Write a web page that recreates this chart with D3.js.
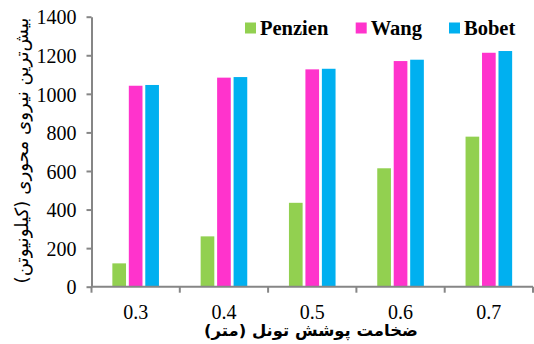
<!DOCTYPE html>
<html>
<head>
<meta charset="utf-8">
<script src="https://cdn.jsdelivr.net/npm/d3@7"></script>
<style>
  html, body { margin: 0; padding: 0; background: #fff; }
  svg { display: block; }
</style>
</head>
<body>
<svg id="chart" width="534" height="344"></svg>
<script>
// Tunnel lining thickness (m) and maximum axial force (kN) by method
const categories = ["0.3", "0.4", "0.5", "0.6", "0.7"];
const seriesNames = ["Penzien", "Wang", "Bobet"];
const penzien = [121, 261, 435, 614, 778];
const wang = [1042, 1084, 1127, 1170, 1213];
const bobet = [1046, 1087, 1130, 1177, 1222];
const yTicks = [0, 200, 400, 600, 800, 1000, 1200, 1400];
const colors = ["#92d050", "#ff33cc", "#00b0f0"];
const xTitle = "ضخامت پوشش تونل  (متر)";
const yTitle = "بیش‌ترین نیروی محوری (کیلونیوتن)";

const values = [penzien, wang, bobet];
const rows = categories.map((c, i) => ({
  cat: c,
  vals: seriesNames.map((s, j) => ({ key: s, value: values[j][i] }))
}));

const svg = d3.select("#chart");
const plotL = 91.5, plotR = 533, plotT = 16.7, plotB = 286.7;
const axisColor = "#868686";
const serif = "Liberation Serif, Noto Serif, DejaVu Serif, FreeSerif, Nimbus Roman, Times, serif";
const persian = "DejaVu Sans, Noto Sans, sans-serif";

const x = d3.scaleBand().domain(categories).range([plotL, plotR]).padding(0);
const x1 = d3.scaleBand().domain(seriesNames).range([-23.3, 23.3]).paddingInner(0.17);
const y = d3.scaleLinear().domain([0, 1400]).range([plotB, plotT]);
const color = d3.scaleOrdinal().domain(seriesNames).range(colors);

// bars
svg.append("g").selectAll("g").data(rows).join("g")
  .attr("transform", d => `translate(${x(d.cat) + x.bandwidth() / 2},0)`)
  .selectAll("rect").data(d => d.vals).join("rect")
  .attr("x", d => x1(d.key))
  .attr("width", x1.bandwidth())
  .attr("y", d => y(d.value))
  .attr("height", d => y(0) - y(d.value))
  .attr("fill", d => color(d.key));

// y axis
const yAxis = svg.append("g")
  .attr("transform", `translate(${plotL},0)`)
  .call(d3.axisLeft(y).tickValues(yTicks).tickFormat(d3.format("d"))
    .tickSize(5).tickSizeOuter(0).tickPadding(10));
yAxis.attr("font-family", serif).attr("font-size", 20);
yAxis.selectAll("path, line").attr("stroke", axisColor).attr("stroke-width", 2);
yAxis.selectAll("text").style("font-family", serif).style("font-size", "20px")
  .attr("fill", "#000").attr("dy", "0.36em");

// x axis: labels centered, ticks on category boundaries
const xAxis = svg.append("g")
  .attr("transform", `translate(0,${plotB})`)
  .call(d3.axisBottom(x).tickSize(0).tickPadding(18));
xAxis.attr("font-family", serif).attr("font-size", 20);
xAxis.select(".domain").remove();
xAxis.selectAll("text").style("font-family", serif).style("font-size", "20px").attr("fill", "#000");
xAxis.append("line")
  .attr("x1", plotL).attr("x2", plotR).attr("stroke", axisColor).attr("stroke-width", 2);
const bounds = categories.map(c => x(c)).concat([x.range()[1]]);
xAxis.selectAll(".bound").data(bounds).join("line")
  .attr("class", "bound")
  .attr("x1", d => d).attr("x2", d => d).attr("y1", 0).attr("y2", 6)
  .attr("stroke", axisColor).attr("stroke-width", 2);

// legend
const legendX = [245, 355.7, 449];
const legend = svg.append("g").selectAll("g").data(seriesNames).join("g")
  .attr("transform", (d, i) => `translate(${legendX[i]},22.5)`);
legend.append("rect").attr("width", 11).attr("height", 11).attr("fill", d => color(d));
legend.append("text").attr("x", 15).attr("y", 12)
  .style("font-family", serif).style("font-weight", "bold").style("font-size", "20.5px")
  .attr("fill", "#000").text(d => d);

// axis titles
function fitText(sel, base, target) {
  sel.style("font-size", base + "px");
  const w = sel.node().getComputedTextLength();
  sel.style("font-size", (base * target / w) + "px");
}
const xt = svg.append("text")
  .attr("x", 311).attr("y", 336)
  .attr("text-anchor", "middle").attr("direction", "rtl")
  .style("font-family", persian).style("font-weight", "bold")
  .attr("fill", "#000").text(xTitle);
fitText(xt, 15, 214);

const yt = svg.append("text")
  .attr("transform", "translate(21,150.5) rotate(-90)")
  .attr("text-anchor", "middle").attr("direction", "rtl").attr("dominant-baseline", "central")
  .style("font-family", persian)
  .attr("fill", "#000").text(yTitle);
fitText(yt, 15, 266);
</script>
</body>
</html>
